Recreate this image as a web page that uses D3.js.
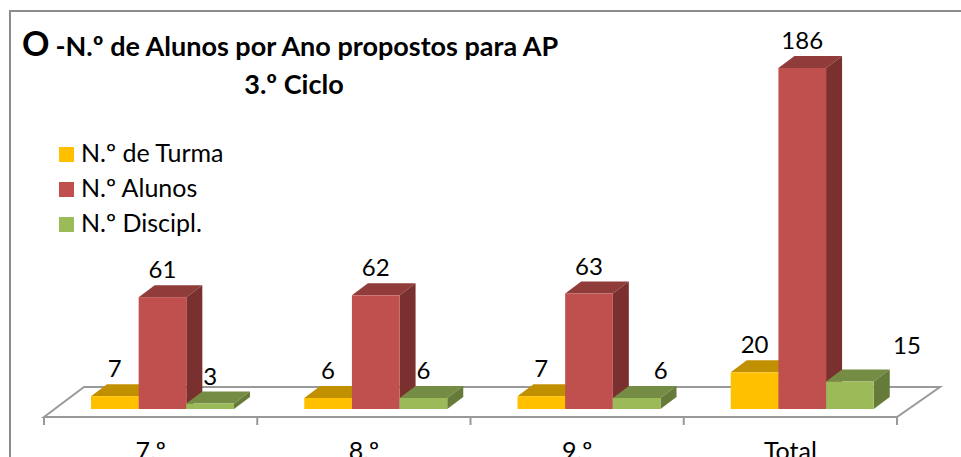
<!DOCTYPE html>
<html>
<head>
<meta charset="utf-8">
<script src="https://cdnjs.cloudflare.com/ajax/libs/d3/7.8.5/d3.min.js"></script>
<style>
  html, body { margin: 0; padding: 0; background: #fff; overflow: hidden; }
  svg { display: block; }
  text { font-family: Lato, "Open Sans", sans-serif; fill: #000; }
</style>
</head>
<body>
<div id="chart"></div>
<script>
// Data
var categories = ["7.º", "8.º", "9.º", "Total"]
var seriesNames = ["N.º de Turma", "N.º Alunos", "N.º Discipl."]
var turma   = [7, 6, 7, 20]
var alunos  = [61, 62, 63, 186]
var discipl = [3, 6, 6, 15]

var seriesValues = [turma, alunos, discipl]
var front = ["#FFC000", "#C0504D", "#9BBB59"]
var top_  = ["#C09000", "#8F3C3A", "#748C43"]
var side  = ["#BF9000", "#7A302E", "#667B3A"]

var width = 961, height = 457
var depthX = 16, depthY = 12 // 3D offset of the bars and floor
var floorY = 417, baseY = 409

var svg = d3.select("#chart").append("svg")
            .attr("width", width)
            .attr("height", height)

// Chart frame
svg.append("path")
   .attr("d", "M10,457V11H961")
   .attr("fill", "none")
   .attr("stroke", "#8c8c8c")
   .attr("stroke-width", 2)

// Scales
var xScale = d3.scaleBand().domain(categories).range([44, 897])
var step   = xScale.step()
var xInner = d3.scaleBand().domain(seriesNames).range([47, 190]) // offset inside a category
var yScale = d3.scaleLinear().domain([0, 186]).range([baseY, 68])

// Floor
var floor = d3.path()
floor.moveTo(44, floorY)
floor.lineTo(44 + 40, floorY - 30)
floor.lineTo(897 + 43, floorY - 30)
floor.lineTo(897, floorY)
floor.closePath()
svg.append("path")
   .attr("d", floor.toString())
   .attr("fill", "#fff")
   .attr("stroke", "#999")
   .attr("stroke-width", 2)

// Category axis, labels only; the ticks sit on the band edges
var xAxis = d3.axisBottom(xScale).tickSize(0).tickPadding(0)
var axis = svg.append("g")
              .attr("transform", "translate(0," + floorY + ")")
              .call(xAxis)
axis.select(".domain").remove()
axis.selectAll("text")
    .attr("y", 43)
    .attr("dy", 0)
    .style("font-family", "Lato, 'Open Sans', sans-serif")
    .style("font-size", "25px")

svg.selectAll(".boundary")
   .data(d3.range(categories.length + 1))
   .enter()
   .append("line")
     .attr("class", "boundary")
     .attr("x1", function (i) { return 44 + i * step })
     .attr("x2", function (i) { return 44 + i * step })
     .attr("y1", floorY)
     .attr("y2", floorY + 8)
     .attr("stroke", "#999")
     .attr("stroke-width", 2)

// Bars, left to right so that each one covers the side of the last
categories.forEach(function (cat, c) {
  seriesNames.forEach(function (name, s) {
    var v  = seriesValues[s][c],
        x0 = xScale(cat) + xInner(name),
        x1 = x0 + xInner.bandwidth(),
        y  = yScale(v),
        g  = svg.append("g").attr("class", "bar")

    g.append("polygon") // top
     .attr("points", [[x0, y], [x0 + depthX, y - depthY], [x1 + depthX, y - depthY], [x1, y]].join(" "))
     .attr("fill", top_[s])
    g.append("polygon") // side
     .attr("points", [[x1, y], [x1 + depthX, y - depthY], [x1 + depthX, baseY - depthY], [x1, baseY]].join(" "))
     .attr("fill", side[s])
    g.append("rect") // front
     .attr("x", x0)
     .attr("y", y)
     .attr("width", x1 - x0)
     .attr("height", baseY - y)
     .attr("fill", front[s])
  })
})

// Value labels, two were moved by hand in the original
var labelMoves = { "2-2": [24, 0], "3-2": [57, -9] }
categories.forEach(function (cat, c) {
  seriesNames.forEach(function (name, s) {
    var v    = seriesValues[s][c],
        move = labelMoves[c + "-" + s] || [0, 0]
    svg.append("text")
       .attr("x", xScale(cat) + xInner(name) + xInner.bandwidth() / 2 + move[0])
       .attr("y", yScale(v) - depthY - 7 + move[1])
       .attr("text-anchor", "middle")
       .style("font-size", "24px")
       .text(v)
  })
})

// Title
var title = svg.append("text")
               .attr("x", 22)
               .attr("y", 56)
               .style("font-weight", "bold")
title.append("tspan").style("font-size", "34px").text("O")
title.append("tspan").attr("dx", 6).style("font-size", "27px").text("-N.º de Alunos por Ano propostos para AP")
svg.append("text")
   .attr("x", 294)
   .attr("y", 94)
   .attr("text-anchor", "middle")
   .style("font-weight", "bold")
   .style("font-size", "27px")
   .text("3.º Ciclo")

// Legend
var legend = svg.selectAll(".legend")
                .data(seriesNames)
                .enter()
                .append("g")
                  .attr("class", "legend")
                  .attr("transform", function (d, i) { return "translate(59," + (147 + i * 35) + ")" })
legend.append("rect")
      .attr("width", 15)
      .attr("height", 15)
      .attr("fill", function (d, i) { return front[i] })
legend.append("text")
      .attr("x", 22)
      .attr("y", 15)
      .style("font-size", "25px")
      .text(function (d) { return d })
</script>
</body>
</html>
